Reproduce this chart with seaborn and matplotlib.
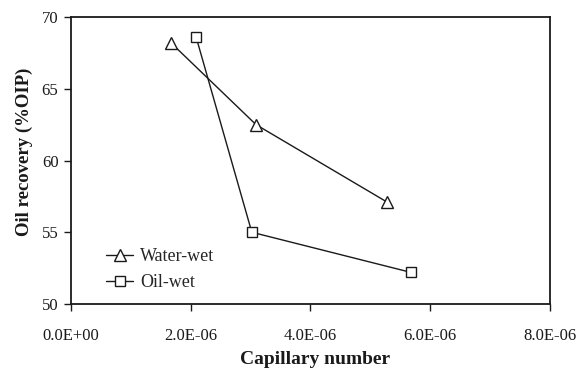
import matplotlib
matplotlib.use("Agg")
import matplotlib.pyplot as plt
import seaborn as sns
import pandas as pd

# Oil recovery versus capillary number for two wettability states
water_wet_cap = [1.67e-6, 3.09e-6, 5.28e-6]
water_wet_rec = [68.2, 62.5, 57.1]
oil_wet_cap = [2.09e-6, 3.02e-6, 5.68e-6]
oil_wet_rec = [68.6, 55.0, 52.2]
series_names = ["Water-wet", "Oil-wet"]
x_ticks = [0, 2e-6, 4e-6, 6e-6, 8e-6]
x_tick_labels = ["0.0E+00", "2.0E-06", "4.0E-06", "6.0E-06", "8.0E-06"]
y_ticks = [50, 55, 60, 65, 70]

df = pd.concat([
    pd.DataFrame({"cap": water_wet_cap, "rec": water_wet_rec, "series": series_names[0]}),
    pd.DataFrame({"cap": oil_wet_cap, "rec": oil_wet_rec, "series": series_names[1]}),
])

sns.set_style("white")
plt.rcParams["font.family"] = ["Liberation Serif", "DejaVu Serif"]

fig = plt.figure(figsize=(5.81, 3.74), dpi=100)
ax = fig.add_axes([0.1222, 0.1872, 0.8244, 0.7673])

ink = "#1a1a1a"
sns.lineplot(
    data=df, x="cap", y="rec", hue="series", style="series",
    markers={"Water-wet": "^", "Oil-wet": "s"}, dashes=False,
    palette={"Water-wet": ink, "Oil-wet": ink}, sort=False,
    markersize=8, markerfacecolor="white", markeredgecolor=ink,
    markeredgewidth=1.0, linewidth=1.0, ax=ax, legend=True,
)
# squares read a bit smaller than the triangles
for line in ax.get_lines():
    if line.get_marker() == "s":
        line.set_markersize(7)

ax.set_xlim(0, 8e-6)
ax.set_ylim(50, 70)
ax.set_xticks(x_ticks)
ax.set_xticklabels(x_tick_labels)
ax.set_yticks(y_ticks)
ax.tick_params(axis="both", labelsize=12, colors=ink, direction="out",
               length=5, width=1.0, bottom=True, left=True)
ax.tick_params(axis="x", pad=12)
ax.tick_params(axis="y", pad=4)
ax.set_xlabel("Capillary number", fontsize=14, fontweight="bold", color=ink)
ax.set_ylabel("Oil recovery (%OIP)", fontsize=13.5, fontweight="bold", color=ink)
ax.xaxis.set_label_coords(0.51, -0.165)
ax.yaxis.set_label_coords(-0.079, 0.53)

for side in ["left", "right", "top", "bottom"]:
    ax.spines[side].set_visible(True)
    ax.spines[side].set_color(ink)
    ax.spines[side].set_linewidth(1.3)

handles, labels = ax.get_legend_handles_labels()
leg = ax.legend(handles, labels, loc="lower left", bbox_to_anchor=(0.073, 0.045),
                borderaxespad=0, borderpad=0, frameon=False, fontsize=13,
                handlelength=1.5, handletextpad=0.4, labelspacing=0.5)
for h in leg.legend_handles:
    h.set_markerfacecolor("white")
    h.set_markeredgecolor(ink)

fig.savefig("out.png", dpi=100)
